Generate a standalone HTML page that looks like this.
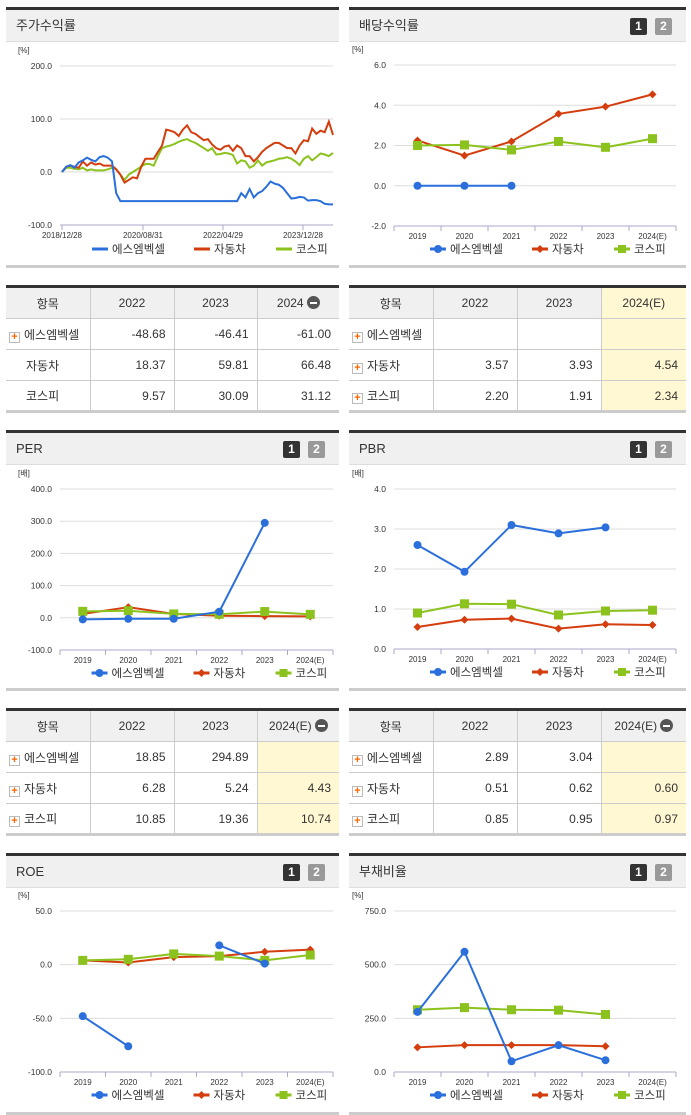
<!DOCTYPE html>
<html><head><meta charset="utf-8">
<style>
*{box-sizing:border-box;margin:0;padding:0}
body{width:691px;height:1115px;background:#fff;position:relative;overflow:hidden;font-family:"Liberation Sans","Noto Sans CJK KR",sans-serif;color:#333}
.panel{position:absolute;border-top:3px solid #333;border-bottom:3px solid #ccc}
.ph{height:32px;background:#f0f0f0;border-bottom:1px solid #ddd;font-size:13px;line-height:31px;padding-left:10px;position:relative}
.b1,.b2{position:absolute;top:8px;width:17px;height:17px;color:#fff;font-size:12px;font-weight:bold;text-align:center;line-height:17px;border-radius:2px}
.b1{right:39px;background:#333}.b2{right:14px;background:#999}
table{position:absolute;border-collapse:collapse;table-layout:fixed;border-top:3px solid #333;border-bottom:3px solid #ccc;font-size:12px}
td,th{border:1px solid #ccc;height:31px;font-weight:normal;white-space:nowrap;overflow:hidden}
th{background:#f0f0f0;text-align:center;height:32px}
td{text-align:right;padding-right:8px}
td:first-child{text-align:left;padding-left:3px;padding-right:0}
tr td:first-child,tr th:first-child{border-left:none}
tr td:last-child,tr th:last-child{border-right:none}
.pl{display:inline-block;width:11px;height:11px;border:1px solid #bbb;background:#fff;color:#f60;font-size:11px;line-height:9px;text-align:center;font-weight:bold;margin-right:4px;vertical-align:-1px}
.y{background:#fff8d2}
.mi{display:inline-block;width:13px;height:13px;border-radius:50%;background:#555;vertical-align:-2px;position:relative;margin-left:3px}
.mi:after{content:"";position:absolute;left:3px;top:6px;width:7px;height:2px;background:#fff}
</style></head><body>
<div class="panel" style="left:6px;top:7px;width:333px;height:261px"><div class="ph">주가수익률</div></div>
<div class="panel" style="left:349px;top:7px;width:337px;height:261px"><div class="ph">배당수익률<span class="b1">1</span><span class="b2">2</span></div></div>
<div class="panel" style="left:6px;top:430px;width:333px;height:261px"><div class="ph">PER<span class="b1">1</span><span class="b2">2</span></div></div>
<div class="panel" style="left:349px;top:430px;width:337px;height:261px"><div class="ph">PBR<span class="b1">1</span><span class="b2">2</span></div></div>
<div class="panel" style="left:6px;top:853px;width:333px;height:262px"><div class="ph">ROE<span class="b1">1</span><span class="b2">2</span></div></div>
<div class="panel" style="left:349px;top:853px;width:337px;height:262px"><div class="ph">부채비율<span class="b1">1</span><span class="b2">2</span></div></div>

<table style="left:6px;top:285px;width:333px">
<colgroup><col style="width:84px"><col style="width:84px"><col style="width:83px"><col style="width:82px"></colgroup>
<tr><th>항목</th><th>2022</th><th>2023</th><th>2024<span class="mi"></span></th></tr>
<tr><td><span class="pl">+</span>에스엠벡셀</td><td>-48.68</td><td>-46.41</td><td>-61.00</td></tr>
<tr><td style="padding-left:20px">자동차</td><td>18.37</td><td>59.81</td><td>66.48</td></tr>
<tr><td style="padding-left:20px">코스피</td><td>9.57</td><td>30.09</td><td>31.12</td></tr></table>
<table style="left:349px;top:285px;width:337px">
<colgroup><col style="width:84px"><col style="width:84px"><col style="width:84px"><col style="width:85px"></colgroup>
<tr><th>항목</th><th>2022</th><th>2023</th><th class="y">2024(E)</th></tr>
<tr><td><span class="pl">+</span>에스엠벡셀</td><td></td><td></td><td class="y"></td></tr>
<tr><td><span class="pl">+</span>자동차</td><td>3.57</td><td>3.93</td><td class="y">4.54</td></tr>
<tr><td><span class="pl">+</span>코스피</td><td>2.20</td><td>1.91</td><td class="y">2.34</td></tr></table>
<table style="left:6px;top:708px;width:333px">
<colgroup><col style="width:84px"><col style="width:84px"><col style="width:83px"><col style="width:82px"></colgroup>
<tr><th>항목</th><th>2022</th><th>2023</th><th>2024(E)<span class="mi"></span></th></tr>
<tr><td><span class="pl">+</span>에스엠벡셀</td><td>18.85</td><td>294.89</td><td class="y"></td></tr>
<tr><td><span class="pl">+</span>자동차</td><td>6.28</td><td>5.24</td><td class="y">4.43</td></tr>
<tr><td><span class="pl">+</span>코스피</td><td>10.85</td><td>19.36</td><td class="y">10.74</td></tr></table>
<table style="left:349px;top:708px;width:337px">
<colgroup><col style="width:84px"><col style="width:84px"><col style="width:84px"><col style="width:85px"></colgroup>
<tr><th>항목</th><th>2022</th><th>2023</th><th>2024(E)<span class="mi"></span></th></tr>
<tr><td><span class="pl">+</span>에스엠벡셀</td><td>2.89</td><td>3.04</td><td class="y"></td></tr>
<tr><td><span class="pl">+</span>자동차</td><td>0.51</td><td>0.62</td><td class="y">0.60</td></tr>
<tr><td><span class="pl">+</span>코스피</td><td>0.85</td><td>0.95</td><td class="y">0.97</td></tr></table>

<svg id="s" width="691" height="1115" style="position:absolute;left:0;top:0;pointer-events:none" font-family="Liberation Sans, Noto Sans CJK KR, sans-serif"></svg>
<script>
const years=["2019","2020","2021","2022","2023","2024(E)"];
const stockTicks=["2018/12/28","2020/08/31","2022/04/29","2023/12/28"];
const stockSm=[0,10,13,8,18,22,27,23,20,28,30,27,20,-40,-55,-55,-55,-55,-55,-55,-55,-55,-55,-55,-55,-55,-55,-55,-55,-55,-55,-55,-55,-55,-55,-55,-55,-55,-55,-55,-55,-55,-55,-40,-48,-32,-48,-40,-36,-28,-18,-22,-24,-30,-40,-50,-49,-47,-48,-54,-53,-53,-55,-60,-61,-61];
const stockCar=[0,10,12,10,8,20,12,18,14,16,12,12,12,5,-5,-20,-15,-10,-12,10,25,25,25,38,50,80,78,75,68,80,88,75,72,66,60,62,52,45,42,48,50,40,50,45,30,30,20,28,38,45,50,55,55,50,45,45,35,50,60,58,82,72,78,75,95,70];
const stockKospi=[0,8,8,6,5,8,3,5,3,3,3,5,8,5,-5,-15,-5,0,5,10,15,15,12,30,45,48,50,53,57,60,62,58,55,50,45,40,45,33,34,36,35,32,16,22,20,8,12,22,12,18,20,22,25,26,28,25,20,13,25,30,22,28,35,33,30,36];
const divSm=[0,0,0,null,null,null];
const divCar=[2.25,1.5,2.2,3.57,3.93,4.54];
const divKospi=[2.0,2.03,1.78,2.20,1.91,2.34];
const perSm=[-5,-3,-3,18.85,294.89,null];
const perCar=[12,33,12,6.28,5.24,4.43];
const perKospi=[20,22,12,10.85,19.36,10.74];
const pbrSm=[2.6,1.93,3.1,2.89,3.04,null];
const pbrCar=[0.55,0.73,0.76,0.51,0.62,0.60];
const pbrKospi=[0.9,1.13,1.12,0.85,0.95,0.97];
const roeSm=[-48,-76,null,18,1,null];
const roeCar=[4,2,7,8,12,14];
const roeKospi=[4,5,10,8,4,9];
const debtSm=[280,560,50,125,55,null];
const debtCar=[115,125,125,125,120,null];
const debtKospi=[290,300,290,288,268,null];

const S=document.getElementById('s');const NS="http://www.w3.org/2000/svg";
function el(t,a,txt){const e=document.createElementNS(NS,t);for(const k in a)e.setAttribute(k,a[k]);if(txt!=null)e.textContent=txt;S.appendChild(e);return e;}
const COL=["#2a6fdb","#d43d0d","#8cc21e"];
const NAMES=["에스엠벡셀","자동차","코스피"];
function axes(c){
  const y=v=>c.yt+(c.max-v)/(c.max-c.min)*(c.yb-c.yt);
  const t=el('text',{x:c.x0-42,y:c.yt-13,'font-size':8,fill:'#333'},c.unit);
  
  for(let v=c.max;v>=c.min-1e-9;v-=c.step){
    const g=el('line',{x1:c.x0,x2:c.x1,y1:y(v),y2:y(v),stroke:'#ddd','stroke-width':1});
    
    const l=el('text',{x:c.x0-8,y:y(v)+3,'font-size':8.5,'text-anchor':'end',fill:'#333'},v.toFixed(1));
    
  }
  el('line',{x1:c.x0,x2:c.x1,y1:c.yb,y2:c.yb,stroke:'#aac',"stroke-width":1});
  return y;
}
function marker(i,x,y,s){
  let m;
  if(i==0)m=el('circle',{cx:x,cy:y,r:s,fill:COL[0]});
  else if(i==1)m=el('path',{d:`M${x},${y-s}L${x+s},${y}L${x},${y+s}L${x-s},${y}Z`,fill:COL[1]});
  else m=el('rect',{x:x-s,y:y-s,width:2*s,height:2*s,fill:COL[2]});
  return m;
}
function legend(cx,ly,mk){
  const w=[72,52,52];let x=cx-95;
  for(let i=0;i<3;i++){
    const l=el('line',{x1:x,x2:x+16,y1:ly,y2:ly,stroke:COL[i],'stroke-width':3});
    
    if(mk){const m=marker(i,x+8,ly,4);}
    const t=el('text',{x:x+20,y:ly+4,'font-size':11.5,fill:'#333'},NAMES[i]);
    
    x+=20+w[i]+10;
  }
}
function catChart(c,series){
  const y=axes(c);const bw=(c.x1-c.x0)/years.length;const xf=i=>c.x0+bw*(i+0.5);
  for(let i=0;i<=years.length;i++)el('line',{x1:c.x0+bw*i,x2:c.x0+bw*i,y1:c.yb,y2:c.yb+5,stroke:'#aac'});
  years.forEach((yr,i)=>{const t=el('text',{x:xf(i),y:c.yb+13,'font-size':8,'text-anchor':'middle',fill:'#333'},yr);});
  [1,2,0].forEach(si=>{
    const d=series[si];let p="";let pen=false;
    d.forEach((v,i)=>{if(v==null){pen=false;return;}p+=(pen?"L":"M")+xf(i)+","+y(v);pen=true;});
    const ln=el('path',{d:p,fill:'none',stroke:COL[si],'stroke-width':2});
    
    d.forEach((v,i)=>{if(v==null)return;const m=marker(si,xf(i),y(v),si==2?4.5:4);});
  });
  legend((c.x0+c.x1)/2-10,c.yb+23,true);
}
(function(){
  const c={x0:60,x1:333,yt:66,yb:225,max:200,min:-100,step:100,unit:"[%]"};
  const y=axes(c);const n=stockSm.length;const xf=i=>62+i*(271/(n-1));
  const tx=[62,143,223,303];
  stockTicks.forEach((t,i)=>{el('line',{x1:tx[i],x2:tx[i],y1:c.yb,y2:c.yb+5,stroke:'#aac'});const e=el('text',{x:tx[i],y:c.yb+13,'font-size':8,'text-anchor':'middle',fill:'#333'},t);});
  [stockKospi,stockCar,stockSm].forEach((d,k)=>{const si=[2,1,0][k];
    const ln=el('path',{d:d.map((v,i)=>(i?"L":"M")+xf(i)+","+y(v)).join(""),fill:'none',stroke:COL[si],'stroke-width':2});
    });
  legend(187,249,false);
})();
catChart({x0:394,x1:676,yt:65,yb:226,max:6,min:-2,step:2,unit:"[%]"},[divSm,divCar,divKospi]);
catChart({x0:60,x1:333,yt:489,yb:650,max:400,min:-100,step:100,unit:"[배]"},[perSm,perCar,perKospi]);
catChart({x0:394,x1:676,yt:489,yb:649,max:4,min:0,step:1,unit:"[배]"},[pbrSm,pbrCar,pbrKospi]);
catChart({x0:60,x1:333,yt:911,yb:1072,max:50,min:-100,step:50,unit:"[%]"},[roeSm,roeCar,roeKospi]);
catChart({x0:394,x1:676,yt:911,yb:1072,max:750,min:0,step:250,unit:"[%]"},[debtSm,debtCar,debtKospi]);
</script>
</body></html>
